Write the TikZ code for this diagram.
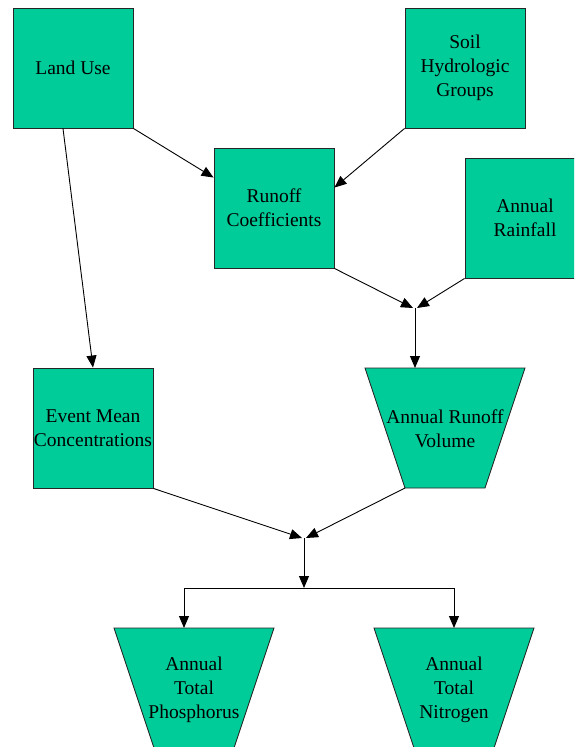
\documentclass[tikz,border=0pt]{standalone}
\usepackage{fontspec}
\setmainfont{LiberationSerif}[Extension=.ttf,UprightFont=*-Regular,BoldFont=*-Bold]
\usetikzlibrary{arrows.meta,calc}
\definecolor{boxgreen}{RGB}{0,204,153}
\begin{document}
\begin{tikzpicture}[x=1pt,y=-1pt,
  txt/.style={align=center, inner sep=0pt, font=\rmfamily\fontsize{19.5}{24}\selectfont},
  box/.style={txt, draw=black!85, line width=0.9pt, fill=boxgreen, minimum width=120pt, minimum height=120pt},
  trap/.style={draw=black!85, line width=0.9pt, fill=boxgreen},
  conn/.style={draw, line width=0.9pt, -{Triangle[length=12pt,width=10pt]}},
  plain/.style={draw, line width=0.9pt}]
\useasboundingbox (0,0) rectangle (574,747);
\clip (0,0) rectangle (574,747);
% rectangles
\node[box] (lu)  at (73,68)   {Land Use};
\node[box] (shg) at (465,68)  {Soil\\Hydrologic\\Groups};
\node[box] (rc)  at (274,208) {Runoff\\Coefficients};
\node[box] (ar)  at (525,218) {Annual\\Rainfall};
\node[box] (emc) at (93,428)  {Event Mean\\Concentrations};
% trapezoids
\path[trap] (365,368) coordinate (arvtl) -- (525,368) -- (485,488) -- (405,488) coordinate (arvbl) -- cycle;
\node[txt] (arv) at (445,429) {Annual Runoff\\Volume};
\path[trap] (114,628) -- (274,628) -- (234,748) -- (154,748) -- cycle;
\node[txt] (atp) at (194,690) {Annual\\Total\\Phosphorus};
\path[trap] (374,628) -- (534,628) -- (494,748) -- (414,748) -- cycle;
\node[txt] (atn) at (454,690) {Annual\\Total\\Nitrogen};
% junction coordinates
\coordinate (j1) at (415,308);
\coordinate (arvin) at (415,368);
\coordinate (j2) at (304,538);
\coordinate (j3) at (304,588);
\coordinate (spl) at (184,588);
\coordinate (spr) at (454,588);
\coordinate (atpin) at (184,628);
\coordinate (atnin) at (454,628);
% connectors
\draw[conn] (lu.south east) -- ($(rc.north west)+(0,30)$);
\draw[conn] (shg.south west) -- ($(rc.north east)+(0,40)$);
\draw[conn] ($(lu.south)+(-10,0)$) -- (emc.north);
\draw[conn] (rc.south east) -- ($(j1)+(-2,0)$);
\draw[conn] (ar.south west) -- ($(j1)+(2,0)$);
\draw[conn] (j1) -- (arvin);
\draw[conn] (emc.south east) -- ($(j2)+(-2,0)$);
\draw[conn] (arvbl) -- ($(j2)+(2,0)$);
\draw[conn] (j2) -- (j3);
\draw[plain] (spl) -- (spr);
\draw[conn] (spl) -- (atpin);
\draw[conn] (spr) -- (atnin);
\end{tikzpicture}
\end{document}
